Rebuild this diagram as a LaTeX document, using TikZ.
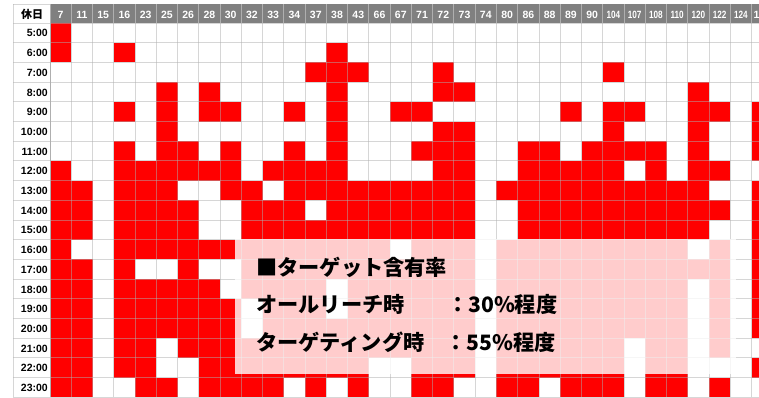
\documentclass[tikz,border=0pt]{standalone}
\usepackage{fontspec}
\usepackage{graphicx}
\setmainfont{Liberation Sans}
\newfontfamily\jp{Noto Sans CJK JP}
\definecolor{hdr}{RGB}{128,128,128}
\definecolor{hdrsep}{RGB}{175,175,175}
\definecolor{gridc}{RGB}{175,175,175}
\definecolor{cellred}{RGB}{255,0,0}
\tikzset{
  gridline/.style={draw=gridc, draw opacity=0.5, line width=0.9pt},
  hdrline/.style={draw=hdrsep, line width=0.9pt},
  hdrtext/.style={text=white, font=\bfseries\fontsize{10.5}{12}\selectfont, inner sep=0pt},
  rowlabel/.style={anchor=east, font=\bfseries\fontsize{10.5}{12}\selectfont, inner sep=0pt},
  ovtext/.style={anchor=west, inner sep=0pt, font=\jp\bfseries\fontsize{21.2}{24}\selectfont},
  redcell/.style={fill=cellred}
}
\begin{document}
\begin{tikzpicture}[x=1pt,y=-1pt]
\useasboundingbox (0,0) rectangle (759,397);
\clip (0,0) rectangle (759,397);
\fill[white] (0,0) rectangle (759,397);
% header band
\fill[hdr] (50,4) rectangle (759,23);
% red cells
\foreach \r/\cl in {
 0/{0},
 1/{0,3,13},
 2/{12,13,14,18,26},
 3/{5,7,13,18,19,30},
 4/{3,5,7,8,11,13,16,17,24,26,27,30,31,33},
 5/{5,13,18,19,26,30,33},
 6/{3,5,6,8,11,13,17,18,19,22,23,25,26,27,28,30,33},
 7/{0,3,4,5,6,7,8,10,11,12,13,18,19,22,23,24,25,26,28,30,31},
 8/{0,1,3,4,5,8,9,11,12,13,14,15,16,17,18,19,21,22,23,24,25,26,27,28,29,30,33},
 9/{0,1,3,4,5,6,9,10,11,13,14,15,16,17,18,19,22,23,24,25,26,27,28,29,30,31,33},
 10/{0,1,3,4,5,6,9,10,11,12,13,14,15,16,17,18,19,22,23,24,25,26,27,28,29,30,33},
 11/{0,3,4,5,6,7,8,9,10,11,12,13,14,15,17,18,19,21,22,23,24,25,26,27,28,29,31,33},
 12/{0,1,3,6,9,10,11,12,13,14,15,16,17,18,19,21,22,23,24,25,26,27,28,29,30,31,33},
 13/{0,1,3,4,5,6,7,9,10,11,12,14,15,16,17,18,19,21,22,23,24,25,26,27,28,29,31,33},
 14/{0,1,3,4,5,6,7,8,10,11,12,14,15,16,17,18,19,21,22,23,24,25,26,27,28,29,31,33},
 15/{0,1,3,4,5,6,7,8,10,11,12,13,14,15,16,17,18,19,21,22,23,24,25,26,27,28,29,31,33},
 16/{0,1,3,4,6,7,8,9,10,11,12,13,14,15,16,17,18,19,21,22,23,24,25,26,28,29,31},
 17/{0,1,3,4,7,8,9,10,11,12,13,14,17,18,19,21,22,23,24,25,26,28,29,33},
 18/{0,1,4,5,7,8,9,10,12,14,17,18,21,22,24,25,26,28,29,31}}{
  \foreach \c in \cl {
    \fill[redcell] ({50+21.26*\c},{23+19.7*\r}) rectangle ++(21.26,19.7);
  }
}
% grid lines
\foreach \i in {0,...,34} {
  \draw[gridline] ({50+21.26*\i},23) -- ({50+21.26*\i},397);
}
\foreach \j in {0,...,19} {
  \draw[gridline] (13,{23+19.7*\j}) -- (759,{23+19.7*\j});
}
\draw[gridline] (13,4) -- (13,397);
\draw[gridline] (13,4) -- (50,4);
\draw[draw=gridc, line width=1pt] (50,4) -- (50,397);
% header separators
\foreach \i in {1,...,34} {
  \draw[hdrline] ({50+21.26*\i},4) -- ({50+21.26*\i},23);
}
% header labels
\node[font=\jp\bfseries\fontsize{11}{12}\selectfont, inner sep=0pt] (kyujitsu) at (32,14.5) {休日};
\foreach \t [count=\i from 0] in {7,11,15,16,23,25,26,28,30,32,33,34,37,38,43,66,67,71,72,73,74,80,86,88,89,90,104,107,108,110,120,122,124} {
  \node[hdrtext] (h\i) at ({50+21.26*\i+10.63},15) {\ifnum\t>99 \scalebox{0.78}[1]{\t}\else\t\fi};
}
\node[hdrtext, anchor=west] (h33) at (753.5,15) {1};
% row labels
\foreach \t [count=\j from 0] in {5,...,23} {
  \node[rowlabel] (t\j) at (48,{23+19.7*\j+10.3}) {\t:00};
}
% overlay
\fill[white, opacity=0.8] (235,239) rectangle (736,373.5);
\node[ovtext] (title) at (256,267) {■ターゲット含有率};
\node[ovtext] (line1) at (256,304.5) {オールリーチ時　　：30\%程度};
\node[ovtext] (line2) at (256,342) {ターゲティング時　：55\%程度};
\end{tikzpicture}
\end{document}
